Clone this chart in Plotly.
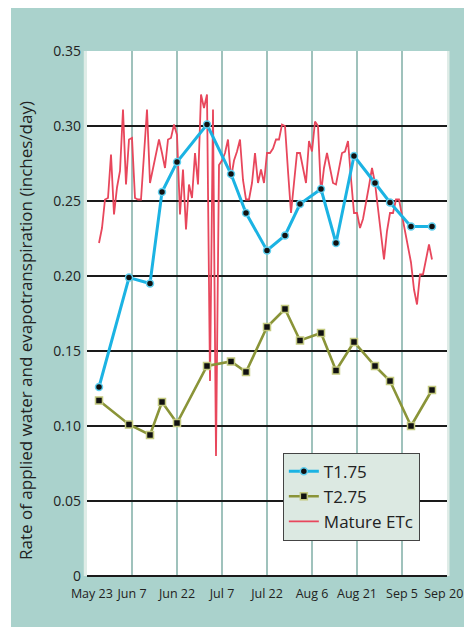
import plotly.graph_objects as go
import pandas as pd

# Sample dates for T1.75 / T2.75
sample_dates = ["2008-05-27", "2008-06-06", "2008-06-13", "2008-06-17", "2008-06-22",
                "2008-07-02", "2008-07-10", "2008-07-15", "2008-07-22", "2008-07-28",
                "2008-08-02", "2008-08-09", "2008-08-14", "2008-08-20", "2008-08-27",
                "2008-09-01", "2008-09-08", "2008-09-15"]
t175 = [0.126, 0.199, 0.195, 0.256, 0.276, 0.301, 0.268, 0.242, 0.217, 0.227,
        0.248, 0.258, 0.222, 0.280, 0.262, 0.249, 0.233, 0.233]
t275 = [0.117, 0.101, 0.094, 0.116, 0.102, 0.140, 0.143, 0.136, 0.166, 0.178,
        0.157, 0.162, 0.137, 0.156, 0.140, 0.130, 0.100, 0.124]

# Daily mature ETc, starting May 27
etc_start = "2008-05-27"
etc_values = [0.222, 0.232, 0.251, 0.252, 0.281, 0.241, 0.259, 0.270, 0.311, 0.261,
              0.291, 0.292, 0.252, 0.251, 0.251, 0.281, 0.311, 0.262, 0.271, 0.281,
              0.291, 0.282, 0.272, 0.291, 0.292, 0.301, 0.294, 0.241, 0.271, 0.231,
              0.261, 0.252, 0.282, 0.261, 0.321, 0.312, 0.321, 0.130, 0.311, 0.080,
              0.274, 0.277, 0.282, 0.291, 0.265, 0.277, 0.283, 0.291, 0.264, 0.251,
              0.251, 0.262, 0.282, 0.262, 0.271, 0.262, 0.282, 0.282, 0.285, 0.291,
              0.291, 0.301, 0.300, 0.270, 0.242, 0.262, 0.282, 0.282, 0.272, 0.262,
              0.290, 0.283, 0.303, 0.300, 0.255, 0.272, 0.282, 0.273, 0.262, 0.261,
              0.272, 0.282, 0.283, 0.290, 0.265, 0.242, 0.242, 0.232, 0.238, 0.248,
              0.260, 0.272, 0.262, 0.245, 0.228, 0.211, 0.230, 0.242, 0.242, 0.251,
              0.251, 0.241, 0.231, 0.220, 0.209, 0.191, 0.181, 0.201, 0.201, 0.211,
              0.221, 0.211]
etc_dates = pd.date_range(etc_start, periods=len(etc_values), freq="D")

NB = "\u00a0"
x_tickvals = ["2008-05-23", "2008-06-07", "2008-06-22", "2008-07-07", "2008-07-22",
              "2008-08-06", "2008-08-21", "2008-09-05", "2008-09-20"]
x_ticktext = [NB * 3 + "May 23", "Jun 7", "Jun 22", "Jul 7", "Jul 22", "Aug 6",
              "Aug 21", "Sep 5", "Sep 20" + NB * 2]
y_tickvals = [0, 0.05, 0.10, 0.15, 0.20, 0.25, 0.30, 0.35]
y_ticktext = ["0", "0.05", "0.10", "0.15", "0.20", "0.25", "0.30", "0.35"]

FONT = "Open Sans"
TEAL = "#aad2cc"
BLUE = "#1bb3e3"
OLIVE = "#8a9438"
RED = "#e8475c"

fig = go.Figure()
fig.add_trace(go.Scatter(x=etc_dates, y=etc_values, mode="lines", name="Mature ETc",
                         line=dict(color=RED, width=1.8), legendrank=3))
fig.add_trace(go.Scatter(x=sample_dates, y=t275, mode="lines+markers", name="T2.75",
                         line=dict(color=OLIVE, width=2.6),
                         marker=dict(symbol="square", size=7, color="#111111",
                                     line=dict(color="#c3c97f", width=1.5)),
                         legendrank=2))
fig.add_trace(go.Scatter(x=sample_dates, y=t175, mode="lines+markers", name="T1.75",
                         line=dict(color=BLUE, width=3),
                         marker=dict(symbol="circle", size=7, color="#111111",
                                     line=dict(color="#5fd0f0", width=1.5)),
                         legendrank=1))

fig.update_layout(
    width=464, height=619,
    margin=dict(l=79, r=25, t=43, b=51),
    paper_bgcolor="white", plot_bgcolor="white",
    font=dict(family=FONT, color="#222222"),
    showlegend=True,
    legend=dict(x=0.544, y=0.235, xanchor="left", yanchor="top",
                bgcolor="#dce9e2", bordercolor="#444444", borderwidth=1,
                font=dict(size=17, family=FONT, color="#222222"),
                tracegroupgap=0, itemwidth=30),
    shapes=[
        dict(type="rect", xref="paper", yref="paper", x0=-0.2111, x1=1.0528,
             y0=-0.12, y1=1.0819, fillcolor=TEAL, line=dict(width=0), layer="below"),
        dict(type="rect", xref="paper", yref="paper", x0=-0.009, x1=1.007,
             y0=0, y1=1, fillcolor="#dfece7", line=dict(width=0), layer="below"),
        dict(type="rect", xref="paper", yref="paper", x0=0, x1=1,
             y0=0, y1=1, fillcolor="white", line=dict(width=0), layer="below"),
    ],
    annotations=[
        dict(text="Rate of applied water and evapotranspiration (inches/day)",
             xref="paper", yref="paper", x=-0.169, y=0.467, textangle=-90,
             showarrow=False, xanchor="center", yanchor="middle",
             font=dict(size=17, family=FONT, color="#222222")),
    ],
)

fig.update_xaxes(
    type="date", range=["2008-05-23", "2008-09-20"],
    tickmode="array", tickvals=x_tickvals, ticktext=x_ticktext,
    tickfont=dict(size=12.5, family=FONT, color="#222222"),
    tickangle=0, automargin=False,
    showgrid=False, ticks="", ticklabelstandoff=8,
    showline=False, zeroline=False,
    minor=dict(tickmode="array", tickvals=x_tickvals[1:-1], showgrid=True,
               gridcolor="#9fc2bc", gridwidth=2, ticks=""),
)
fig.update_yaxes(
    range=[0, 0.35], tickmode="array", tickvals=y_tickvals, ticktext=y_ticktext,
    tickfont=dict(size=14, family=FONT, color="#222222"),
    automargin=False,
    showgrid=True, gridcolor="#1a1a1a", gridwidth=1.5,
    zeroline=True, zerolinecolor="#1a1a1a", zerolinewidth=2,
    ticks="", ticklabelstandoff=5, showline=False,
)

fig.write_html("out.html")
